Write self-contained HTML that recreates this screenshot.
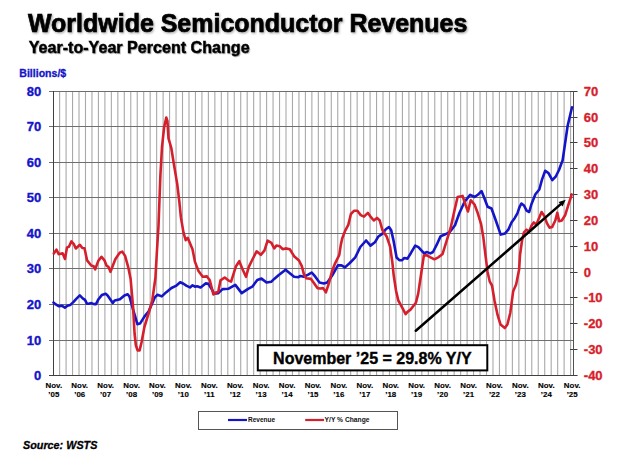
<!DOCTYPE html>
<html><head><meta charset="utf-8"><style>
html,body{margin:0;padding:0;background:#fff;}
body{width:618px;height:459px;overflow:hidden;position:relative;}
svg{position:absolute;left:0;top:0;}
text{font-family:"Liberation Sans",sans-serif;font-weight:bold;}
.ax{font-size:13px;stroke-width:0.35px;}
.st{stroke:#000;}
.xl{font-size:7.9px;letter-spacing:0.05px;fill:#000;stroke:#000;stroke-width:0.15px;}
</style></head><body>
<svg width="618" height="459" viewBox="0 0 618 459">
<defs><filter id="sh" x="-5%" y="-30%" width="110%" height="160%"><feDropShadow dx="1" dy="1.2" stdDeviation="0.9" flood-color="#000" flood-opacity="0.35"/></filter>
<filter id="sh2" x="-5%" y="-30%" width="110%" height="160%"><feDropShadow dx="0.8" dy="1" stdDeviation="0.7" flood-color="#000" flood-opacity="0.3"/></filter></defs>
<text x="28" y="31.6" style="font-size:24.98px;stroke:#000;stroke-width:0.7px;filter:url(#sh)" fill="#000">Worldwide Semiconductor Revenues</text>
<text x="28.7" y="53" style="font-size:16.1px;stroke:#000;stroke-width:0.45px;filter:url(#sh2)" fill="#000">Year-to-Year Percent Change</text>
<text x="19.3" y="77" style="font-size:10.55px;stroke:#1414c8;stroke-width:0.3px" fill="#1414c8">Billions/$</text>
<line x1="59.62" y1="91.5" x2="59.62" y2="375.4" stroke="#a9a9a9" stroke-width="1.1"/>
<line x1="66.09" y1="91.5" x2="66.09" y2="375.4" stroke="#a9a9a9" stroke-width="1.1"/>
<line x1="72.56" y1="91.5" x2="72.56" y2="375.4" stroke="#a9a9a9" stroke-width="1.1"/>
<line x1="79.02" y1="91.5" x2="79.02" y2="375.4" stroke="#a9a9a9" stroke-width="1.1"/>
<line x1="85.49" y1="91.5" x2="85.49" y2="375.4" stroke="#a9a9a9" stroke-width="1.1"/>
<line x1="91.96" y1="91.5" x2="91.96" y2="375.4" stroke="#a9a9a9" stroke-width="1.1"/>
<line x1="98.43" y1="91.5" x2="98.43" y2="375.4" stroke="#a9a9a9" stroke-width="1.1"/>
<line x1="104.90" y1="91.5" x2="104.90" y2="375.4" stroke="#a9a9a9" stroke-width="1.1"/>
<line x1="111.36" y1="91.5" x2="111.36" y2="375.4" stroke="#a9a9a9" stroke-width="1.1"/>
<line x1="117.83" y1="91.5" x2="117.83" y2="375.4" stroke="#a9a9a9" stroke-width="1.1"/>
<line x1="124.30" y1="91.5" x2="124.30" y2="375.4" stroke="#a9a9a9" stroke-width="1.1"/>
<line x1="130.77" y1="91.5" x2="130.77" y2="375.4" stroke="#a9a9a9" stroke-width="1.1"/>
<line x1="137.24" y1="91.5" x2="137.24" y2="375.4" stroke="#a9a9a9" stroke-width="1.1"/>
<line x1="143.70" y1="91.5" x2="143.70" y2="375.4" stroke="#a9a9a9" stroke-width="1.1"/>
<line x1="150.17" y1="91.5" x2="150.17" y2="375.4" stroke="#a9a9a9" stroke-width="1.1"/>
<line x1="156.64" y1="91.5" x2="156.64" y2="375.4" stroke="#a9a9a9" stroke-width="1.1"/>
<line x1="163.11" y1="91.5" x2="163.11" y2="375.4" stroke="#a9a9a9" stroke-width="1.1"/>
<line x1="169.58" y1="91.5" x2="169.58" y2="375.4" stroke="#a9a9a9" stroke-width="1.1"/>
<line x1="176.04" y1="91.5" x2="176.04" y2="375.4" stroke="#a9a9a9" stroke-width="1.1"/>
<line x1="182.51" y1="91.5" x2="182.51" y2="375.4" stroke="#a9a9a9" stroke-width="1.1"/>
<line x1="188.98" y1="91.5" x2="188.98" y2="375.4" stroke="#a9a9a9" stroke-width="1.1"/>
<line x1="195.45" y1="91.5" x2="195.45" y2="375.4" stroke="#a9a9a9" stroke-width="1.1"/>
<line x1="201.92" y1="91.5" x2="201.92" y2="375.4" stroke="#a9a9a9" stroke-width="1.1"/>
<line x1="208.38" y1="91.5" x2="208.38" y2="375.4" stroke="#a9a9a9" stroke-width="1.1"/>
<line x1="214.85" y1="91.5" x2="214.85" y2="375.4" stroke="#a9a9a9" stroke-width="1.1"/>
<line x1="221.32" y1="91.5" x2="221.32" y2="375.4" stroke="#a9a9a9" stroke-width="1.1"/>
<line x1="227.79" y1="91.5" x2="227.79" y2="375.4" stroke="#a9a9a9" stroke-width="1.1"/>
<line x1="234.26" y1="91.5" x2="234.26" y2="375.4" stroke="#a9a9a9" stroke-width="1.1"/>
<line x1="240.72" y1="91.5" x2="240.72" y2="375.4" stroke="#a9a9a9" stroke-width="1.1"/>
<line x1="247.19" y1="91.5" x2="247.19" y2="375.4" stroke="#a9a9a9" stroke-width="1.1"/>
<line x1="253.66" y1="91.5" x2="253.66" y2="375.4" stroke="#a9a9a9" stroke-width="1.1"/>
<line x1="260.13" y1="91.5" x2="260.13" y2="375.4" stroke="#a9a9a9" stroke-width="1.1"/>
<line x1="266.60" y1="91.5" x2="266.60" y2="375.4" stroke="#a9a9a9" stroke-width="1.1"/>
<line x1="273.06" y1="91.5" x2="273.06" y2="375.4" stroke="#a9a9a9" stroke-width="1.1"/>
<line x1="279.53" y1="91.5" x2="279.53" y2="375.4" stroke="#a9a9a9" stroke-width="1.1"/>
<line x1="286.00" y1="91.5" x2="286.00" y2="375.4" stroke="#a9a9a9" stroke-width="1.1"/>
<line x1="292.47" y1="91.5" x2="292.47" y2="375.4" stroke="#a9a9a9" stroke-width="1.1"/>
<line x1="298.94" y1="91.5" x2="298.94" y2="375.4" stroke="#a9a9a9" stroke-width="1.1"/>
<line x1="305.40" y1="91.5" x2="305.40" y2="375.4" stroke="#a9a9a9" stroke-width="1.1"/>
<line x1="311.87" y1="91.5" x2="311.87" y2="375.4" stroke="#a9a9a9" stroke-width="1.1"/>
<line x1="318.34" y1="91.5" x2="318.34" y2="375.4" stroke="#a9a9a9" stroke-width="1.1"/>
<line x1="324.81" y1="91.5" x2="324.81" y2="375.4" stroke="#a9a9a9" stroke-width="1.1"/>
<line x1="331.28" y1="91.5" x2="331.28" y2="375.4" stroke="#a9a9a9" stroke-width="1.1"/>
<line x1="337.74" y1="91.5" x2="337.74" y2="375.4" stroke="#a9a9a9" stroke-width="1.1"/>
<line x1="344.21" y1="91.5" x2="344.21" y2="375.4" stroke="#a9a9a9" stroke-width="1.1"/>
<line x1="350.68" y1="91.5" x2="350.68" y2="375.4" stroke="#a9a9a9" stroke-width="1.1"/>
<line x1="357.15" y1="91.5" x2="357.15" y2="375.4" stroke="#a9a9a9" stroke-width="1.1"/>
<line x1="363.62" y1="91.5" x2="363.62" y2="375.4" stroke="#a9a9a9" stroke-width="1.1"/>
<line x1="370.08" y1="91.5" x2="370.08" y2="375.4" stroke="#a9a9a9" stroke-width="1.1"/>
<line x1="376.55" y1="91.5" x2="376.55" y2="375.4" stroke="#a9a9a9" stroke-width="1.1"/>
<line x1="383.02" y1="91.5" x2="383.02" y2="375.4" stroke="#a9a9a9" stroke-width="1.1"/>
<line x1="389.49" y1="91.5" x2="389.49" y2="375.4" stroke="#a9a9a9" stroke-width="1.1"/>
<line x1="395.96" y1="91.5" x2="395.96" y2="375.4" stroke="#a9a9a9" stroke-width="1.1"/>
<line x1="402.42" y1="91.5" x2="402.42" y2="375.4" stroke="#a9a9a9" stroke-width="1.1"/>
<line x1="408.89" y1="91.5" x2="408.89" y2="375.4" stroke="#a9a9a9" stroke-width="1.1"/>
<line x1="415.36" y1="91.5" x2="415.36" y2="375.4" stroke="#a9a9a9" stroke-width="1.1"/>
<line x1="421.83" y1="91.5" x2="421.83" y2="375.4" stroke="#a9a9a9" stroke-width="1.1"/>
<line x1="428.30" y1="91.5" x2="428.30" y2="375.4" stroke="#a9a9a9" stroke-width="1.1"/>
<line x1="434.76" y1="91.5" x2="434.76" y2="375.4" stroke="#a9a9a9" stroke-width="1.1"/>
<line x1="441.23" y1="91.5" x2="441.23" y2="375.4" stroke="#a9a9a9" stroke-width="1.1"/>
<line x1="447.70" y1="91.5" x2="447.70" y2="375.4" stroke="#a9a9a9" stroke-width="1.1"/>
<line x1="454.17" y1="91.5" x2="454.17" y2="375.4" stroke="#a9a9a9" stroke-width="1.1"/>
<line x1="460.64" y1="91.5" x2="460.64" y2="375.4" stroke="#a9a9a9" stroke-width="1.1"/>
<line x1="467.10" y1="91.5" x2="467.10" y2="375.4" stroke="#a9a9a9" stroke-width="1.1"/>
<line x1="473.57" y1="91.5" x2="473.57" y2="375.4" stroke="#a9a9a9" stroke-width="1.1"/>
<line x1="480.04" y1="91.5" x2="480.04" y2="375.4" stroke="#a9a9a9" stroke-width="1.1"/>
<line x1="486.51" y1="91.5" x2="486.51" y2="375.4" stroke="#a9a9a9" stroke-width="1.1"/>
<line x1="492.98" y1="91.5" x2="492.98" y2="375.4" stroke="#a9a9a9" stroke-width="1.1"/>
<line x1="499.44" y1="91.5" x2="499.44" y2="375.4" stroke="#a9a9a9" stroke-width="1.1"/>
<line x1="505.91" y1="91.5" x2="505.91" y2="375.4" stroke="#a9a9a9" stroke-width="1.1"/>
<line x1="512.38" y1="91.5" x2="512.38" y2="375.4" stroke="#a9a9a9" stroke-width="1.1"/>
<line x1="518.85" y1="91.5" x2="518.85" y2="375.4" stroke="#a9a9a9" stroke-width="1.1"/>
<line x1="525.32" y1="91.5" x2="525.32" y2="375.4" stroke="#a9a9a9" stroke-width="1.1"/>
<line x1="531.78" y1="91.5" x2="531.78" y2="375.4" stroke="#a9a9a9" stroke-width="1.1"/>
<line x1="538.25" y1="91.5" x2="538.25" y2="375.4" stroke="#a9a9a9" stroke-width="1.1"/>
<line x1="544.72" y1="91.5" x2="544.72" y2="375.4" stroke="#a9a9a9" stroke-width="1.1"/>
<line x1="551.19" y1="91.5" x2="551.19" y2="375.4" stroke="#a9a9a9" stroke-width="1.1"/>
<line x1="557.66" y1="91.5" x2="557.66" y2="375.4" stroke="#a9a9a9" stroke-width="1.1"/>
<line x1="564.12" y1="91.5" x2="564.12" y2="375.4" stroke="#a9a9a9" stroke-width="1.1"/>
<line x1="570.59" y1="91.5" x2="570.59" y2="375.4" stroke="#a9a9a9" stroke-width="1.1"/>
<line x1="49.0" y1="340.50" x2="573.5" y2="340.50" stroke="#6e6e6e" stroke-width="1"/>
<line x1="49.0" y1="304.50" x2="573.5" y2="304.50" stroke="#6e6e6e" stroke-width="1"/>
<line x1="49.0" y1="268.50" x2="573.5" y2="268.50" stroke="#6e6e6e" stroke-width="1"/>
<line x1="49.0" y1="233.50" x2="573.5" y2="233.50" stroke="#6e6e6e" stroke-width="1"/>
<line x1="49.0" y1="197.50" x2="573.5" y2="197.50" stroke="#6e6e6e" stroke-width="1"/>
<line x1="49.0" y1="162.50" x2="573.5" y2="162.50" stroke="#6e6e6e" stroke-width="1"/>
<line x1="49.0" y1="126.50" x2="573.5" y2="126.50" stroke="#6e6e6e" stroke-width="1"/>
<line x1="49.0" y1="91.50" x2="577.2" y2="91.50" stroke="#6e6e6e" stroke-width="1"/>
<line x1="570.0" y1="375.50" x2="577.5" y2="375.50" stroke="#404040" stroke-width="1"/>
<line x1="570.0" y1="349.50" x2="577.5" y2="349.50" stroke="#404040" stroke-width="1"/>
<line x1="570.0" y1="323.50" x2="577.5" y2="323.50" stroke="#404040" stroke-width="1"/>
<line x1="570.0" y1="297.50" x2="577.5" y2="297.50" stroke="#404040" stroke-width="1"/>
<line x1="570.0" y1="272.50" x2="577.5" y2="272.50" stroke="#404040" stroke-width="1"/>
<line x1="570.0" y1="246.50" x2="577.5" y2="246.50" stroke="#404040" stroke-width="1"/>
<line x1="570.0" y1="220.50" x2="577.5" y2="220.50" stroke="#404040" stroke-width="1"/>
<line x1="570.0" y1="194.50" x2="577.5" y2="194.50" stroke="#404040" stroke-width="1"/>
<line x1="570.0" y1="168.50" x2="577.5" y2="168.50" stroke="#404040" stroke-width="1"/>
<line x1="570.0" y1="142.50" x2="577.5" y2="142.50" stroke="#404040" stroke-width="1"/>
<line x1="570.0" y1="117.50" x2="577.5" y2="117.50" stroke="#404040" stroke-width="1"/>
<line x1="570.0" y1="91.50" x2="577.5" y2="91.50" stroke="#404040" stroke-width="1"/>
<line x1="53.5" y1="91" x2="53.5" y2="376" stroke="#404040" stroke-width="1"/>
<line x1="573.5" y1="91" x2="573.5" y2="376" stroke="#505050" stroke-width="1"/>
<line x1="49.0" y1="375.5" x2="577.2" y2="375.5" stroke="#404040" stroke-width="1"/>
<polyline points="53.5,302.6 55.8,304.4 59.1,306.3 61.7,305.7 64.9,307.6 67.5,305.7 70.1,305.1 73.3,302.1 76.5,298.6 79.8,295.4 83.0,298.6 85.0,299.9 86.9,303.6 88.8,303.8 91.4,303.1 94.0,304.1 96.0,304.1 98.5,299.2 101.8,295.1 105.7,293.8 107.6,295.4 110.2,299.2 112.8,303.0 114.7,300.5 119.9,299.2 124.4,295.4 127.7,294.3 129.6,296.8 133.1,309.6 137.4,324.2 140.0,323.6 144.4,316.6 148.7,311.2 154.8,297.4 157.5,294.8 161.8,296.4 166.0,292.4 171.5,288.0 175.9,285.9 180.2,282.2 183.5,283.7 186.7,285.9 190.0,287.4 192.5,285.3 195.0,286.7 197.1,286.3 200.6,287.4 205.6,283.4 208.4,283.9 212.0,289.5 214.1,293.8 218.3,293.1 222.6,289.1 228.2,288.8 235.3,284.9 241.7,293.1 248.1,288.8 252.3,286.7 257.3,280.0 261.5,278.6 266.5,282.5 271.4,281.7 274.2,278.9 278.5,275.3 285.6,269.7 289.8,273.2 294.1,276.7 298.3,277.2 300.4,276.0 304.0,276.7 308.2,274.6 311.7,272.5 315.3,276.7 319.5,282.4 323.8,283.4 327.3,282.4 332.3,275.3 337.9,265.4 341.5,265.4 345.0,267.4 349.8,263.0 355.3,257.3 360.3,247.0 366.1,240.5 370.5,245.6 374.9,242.3 378.1,236.8 382.5,233.6 385.8,229.2 389.0,227.0 391.2,230.3 393.4,240.1 396.6,257.5 399.3,260.2 402.1,260.2 404.3,258.0 407.5,258.6 410.8,253.2 415.2,245.6 418.4,247.1 423.9,253.2 427.1,252.1 430.4,253.4 433.0,252.0 436.5,245.2 440.5,236.4 445.3,234.3 449.6,232.1 455.0,225.2 459.3,213.3 464.8,201.3 470.2,194.8 474.6,197.0 477.8,194.8 481.5,191.1 484.3,198.0 487.6,206.7 491.5,208.5 495.2,218.7 500.7,234.6 505.1,233.4 508.3,229.7 511.5,222.5 514.8,217.9 517.4,213.3 519.4,207.4 521.4,203.5 524.0,205.5 526.6,210.7 529.2,212.0 531.5,204.0 533.5,199.0 535.4,194.3 539.3,189.5 542.0,179.6 545.2,170.8 548.5,173.1 552.3,180.2 555.9,176.3 559.1,169.8 561.0,164.5 562.6,160.5 564.8,145.4 567.6,126.0 572.0,107.2" fill="none" stroke="#1414c8" stroke-width="2.6" stroke-linejoin="round" stroke-linecap="round"/>
<polyline points="53.8,253.5 56.4,249.6 58.7,254.2 62.6,253.3 65.0,259.0 67.0,247.4 68.9,246.7 71.4,241.4 74.0,244.4 75.8,248.5 79.9,244.8 82.3,248.0 84.5,248.2 87.1,260.4 91.2,265.5 93.6,266.2 95.2,269.3 98.3,260.9 101.5,256.8 104.5,260.4 106.6,265.7 108.4,266.8 110.5,271.8 115.3,259.2 119.7,252.7 122.3,251.6 125.1,255.9 128.4,267.9 130.6,278.8 133.0,306.0 134.6,334.0 135.9,345.5 137.6,350.4 139.6,350.4 141.6,342.0 144.4,327.0 148.7,313.0 152.2,301.0 155.4,278.0 157.0,250.0 158.5,226.0 160.4,175.2 162.0,147.0 164.1,127.4 166.3,117.6 167.4,120.9 168.5,138.3 171.3,148.0 173.9,164.3 177.2,183.9 179.3,201.3 180.9,217.4 183.5,232.6 185.7,240.2 187.8,238.0 192.5,249.2 195.0,261.9 198.5,271.1 202.7,276.8 207.0,276.4 209.8,280.3 213.4,294.5 216.2,292.4 218.3,291.7 220.5,280.3 224.7,277.5 228.2,280.3 231.1,281.7 236.0,266.2 239.3,261.2 242.4,269.0 246.0,276.8 248.8,266.9 252.3,259.8 256.6,251.3 260.8,254.8 264.4,250.6 267.6,240.7 271.4,242.8 274.2,248.4 276.4,245.6 279.9,246.3 282.7,249.2 285.6,248.4 289.8,249.2 294.1,256.2 299.0,260.5 301.8,266.1 304.0,274.6 306.1,278.2 311.0,278.9 313.9,283.1 317.4,288.1 320.2,288.5 323.1,288.1 325.9,292.3 328.7,283.8 332.3,270.4 335.1,263.3 339.3,254.8 340.8,244.9 342.2,238.5 345.2,230.6 348.3,224.9 350.9,214.0 354.2,210.7 357.4,210.7 360.7,215.1 364.0,216.6 367.9,212.9 370.5,216.6 373.8,220.5 377.0,217.9 379.7,220.5 382.5,230.3 386.8,236.8 390.1,246.6 392.3,261.9 393.7,275.3 396.0,290.5 398.3,300.5 402.1,307.3 405.6,314.2 407.5,311.9 410.5,309.6 415.9,302.7 418.2,293.6 420.5,278.3 422.0,268.0 423.9,255.4 427.1,255.4 430.0,257.1 434.4,259.3 438.7,257.1 442.6,253.9 446.3,241.9 450.7,227.7 454.0,212.5 457.6,197.0 462.6,195.9 465.4,204.6 468.0,211.5 470.7,200.2 474.6,204.6 477.8,213.3 481.1,224.1 483.3,237.2 485.4,254.6 487.6,272.0 489.8,281.7 492.0,285.5 494.6,301.0 497.5,314.7 500.5,324.5 504.8,328.0 507.4,324.5 510.3,312.7 513.2,291.2 516.2,284.3 519.1,269.6 520.0,255.0 522.0,240.8 524.0,232.3 526.6,229.7 529.2,231.6 531.8,225.1 533.8,222.5 536.4,224.5 539.7,216.6 541.6,212.0 544.3,215.9 546.9,223.1 549.5,227.7 552.1,227.1 555.3,220.5 557.3,212.7 559.2,221.2 561.8,220.5 565.1,215.3 567.9,206.3 570.6,198.2 571.7,194.4" fill="none" stroke="#d61f2d" stroke-width="2.6" stroke-linejoin="round" stroke-linecap="round"/>
<line x1="415.8" y1="330.8" x2="561.33" y2="203.62" stroke="#000" stroke-width="2.5" stroke-linecap="round"/>
<polygon points="565.7,199.8 562.55,206.53 558.61,202.02" fill="#000"/>
<rect x="257.8" y="345.2" width="229.5" height="25.2" fill="#fff" stroke="#000" stroke-width="2"/>
<text x="41.2" y="380.10" text-anchor="end" class="ax" fill="#1414c8" stroke="#1414c8">0</text>
<text x="41.2" y="345.10" text-anchor="end" class="ax" fill="#1414c8" stroke="#1414c8">10</text>
<text x="41.2" y="309.10" text-anchor="end" class="ax" fill="#1414c8" stroke="#1414c8">20</text>
<text x="41.2" y="273.10" text-anchor="end" class="ax" fill="#1414c8" stroke="#1414c8">30</text>
<text x="41.2" y="238.10" text-anchor="end" class="ax" fill="#1414c8" stroke="#1414c8">40</text>
<text x="41.2" y="202.10" text-anchor="end" class="ax" fill="#1414c8" stroke="#1414c8">50</text>
<text x="41.2" y="167.10" text-anchor="end" class="ax" fill="#1414c8" stroke="#1414c8">60</text>
<text x="41.2" y="131.10" text-anchor="end" class="ax" fill="#1414c8" stroke="#1414c8">70</text>
<text x="41.2" y="96.10" text-anchor="end" class="ax" fill="#1414c8" stroke="#1414c8">80</text>
<text x="583.8" y="380.00" class="ax" fill="#d61f2d" stroke="#d61f2d">-40</text>
<text x="583.8" y="354.00" class="ax" fill="#d61f2d" stroke="#d61f2d">-30</text>
<text x="583.8" y="328.00" class="ax" fill="#d61f2d" stroke="#d61f2d">-20</text>
<text x="583.8" y="302.00" class="ax" fill="#d61f2d" stroke="#d61f2d">-10</text>
<text x="583.8" y="277.00" class="ax" fill="#d61f2d" stroke="#d61f2d">0</text>
<text x="583.8" y="251.00" class="ax" fill="#d61f2d" stroke="#d61f2d">10</text>
<text x="583.8" y="225.00" class="ax" fill="#d61f2d" stroke="#d61f2d">20</text>
<text x="583.8" y="199.00" class="ax" fill="#d61f2d" stroke="#d61f2d">30</text>
<text x="583.8" y="173.00" class="ax" fill="#d61f2d" stroke="#d61f2d">40</text>
<text x="583.8" y="147.00" class="ax" fill="#d61f2d" stroke="#d61f2d">50</text>
<text x="583.8" y="122.00" class="ax" fill="#d61f2d" stroke="#d61f2d">60</text>
<text x="583.8" y="96.00" class="ax" fill="#d61f2d" stroke="#d61f2d">70</text>
<text x="53.80" y="388" text-anchor="middle" class="xl">Nov.</text>
<text x="53.80" y="397.3" text-anchor="middle" class="xl">’05</text>
<text x="79.72" y="388" text-anchor="middle" class="xl">Nov.</text>
<text x="79.72" y="397.3" text-anchor="middle" class="xl">’06</text>
<text x="105.64" y="388" text-anchor="middle" class="xl">Nov.</text>
<text x="105.64" y="397.3" text-anchor="middle" class="xl">’07</text>
<text x="131.56" y="388" text-anchor="middle" class="xl">Nov.</text>
<text x="131.56" y="397.3" text-anchor="middle" class="xl">’08</text>
<text x="157.48" y="388" text-anchor="middle" class="xl">Nov.</text>
<text x="157.48" y="397.3" text-anchor="middle" class="xl">’09</text>
<text x="183.40" y="388" text-anchor="middle" class="xl">Nov.</text>
<text x="183.40" y="397.3" text-anchor="middle" class="xl">’10</text>
<text x="209.32" y="388" text-anchor="middle" class="xl">Nov.</text>
<text x="209.32" y="397.3" text-anchor="middle" class="xl">’11</text>
<text x="235.24" y="388" text-anchor="middle" class="xl">Nov.</text>
<text x="235.24" y="397.3" text-anchor="middle" class="xl">’12</text>
<text x="261.16" y="388" text-anchor="middle" class="xl">Nov.</text>
<text x="261.16" y="397.3" text-anchor="middle" class="xl">’13</text>
<text x="287.08" y="388" text-anchor="middle" class="xl">Nov.</text>
<text x="287.08" y="397.3" text-anchor="middle" class="xl">’14</text>
<text x="313.00" y="388" text-anchor="middle" class="xl">Nov.</text>
<text x="313.00" y="397.3" text-anchor="middle" class="xl">’15</text>
<text x="338.92" y="388" text-anchor="middle" class="xl">Nov.</text>
<text x="338.92" y="397.3" text-anchor="middle" class="xl">’16</text>
<text x="364.84" y="388" text-anchor="middle" class="xl">Nov.</text>
<text x="364.84" y="397.3" text-anchor="middle" class="xl">’17</text>
<text x="390.76" y="388" text-anchor="middle" class="xl">Nov.</text>
<text x="390.76" y="397.3" text-anchor="middle" class="xl">’18</text>
<text x="416.68" y="388" text-anchor="middle" class="xl">Nov.</text>
<text x="416.68" y="397.3" text-anchor="middle" class="xl">’19</text>
<text x="442.60" y="388" text-anchor="middle" class="xl">Nov.</text>
<text x="442.60" y="397.3" text-anchor="middle" class="xl">’20</text>
<text x="468.52" y="388" text-anchor="middle" class="xl">Nov.</text>
<text x="468.52" y="397.3" text-anchor="middle" class="xl">’21</text>
<text x="494.44" y="388" text-anchor="middle" class="xl">Nov.</text>
<text x="494.44" y="397.3" text-anchor="middle" class="xl">’22</text>
<text x="520.36" y="388" text-anchor="middle" class="xl">Nov.</text>
<text x="520.36" y="397.3" text-anchor="middle" class="xl">’23</text>
<text x="546.28" y="388" text-anchor="middle" class="xl">Nov.</text>
<text x="546.28" y="397.3" text-anchor="middle" class="xl">’24</text>
<text x="572.20" y="388" text-anchor="middle" class="xl">Nov.</text>
<text x="572.20" y="397.3" text-anchor="middle" class="xl">’25</text>
<text x="273.1" y="363.8" style="font-size:16px;stroke:#000;stroke-width:0.35px" fill="#000">November ’25 = 29.8% Y/Y</text>
<rect x="198.5" y="411.5" width="199" height="18" fill="#fff" stroke="#555" stroke-width="1"/>
<line x1="228" y1="420" x2="247" y2="420" stroke="#1414c8" stroke-width="2.2"/>
<text x="248" y="422.4" style="font-size:6.5px" fill="#111">Revenue</text>
<line x1="305.2" y1="420" x2="324" y2="420" stroke="#d61f2d" stroke-width="2.2"/>
<text x="324.6" y="422.4" style="font-size:6.7px" fill="#111">Y/Y % Change</text>
<text x="23" y="449.3" style="font-size:10.8px;font-style:italic;stroke:#000;stroke-width:0.3px" fill="#000">Source: WSTS</text>
</svg>
</body></html>
